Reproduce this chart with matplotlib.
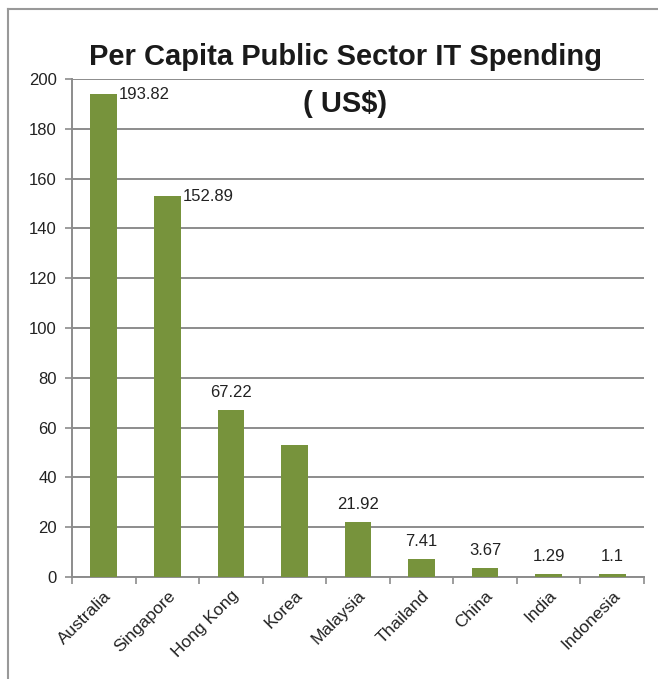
import matplotlib.pyplot as plt
from matplotlib import font_manager
from matplotlib.lines import Line2D

countries = ["Australia", "Singapore", "Hong Kong", "Korea", "Malaysia",
             "Thailand", "China", "India", "Indonesia"]
spending = [193.82, 152.89, 67.22, 53.0, 21.92, 7.41, 3.67, 1.29, 1.1]
labels = ["193.82", "152.89", "67.22", "", "21.92", "7.41", "3.67", "1.29", "1.1"]
yticks = [0, 20, 40, 60, 80, 100, 120, 140, 160, 180, 200]

names = {f.name for f in font_manager.fontManager.ttflist}
narrow = "Liberation Sans Narrow" if "Liberation Sans Narrow" in names else "Liberation Sans"
plt.rcParams["font.family"] = [narrow, "DejaVu Sans"]

BAR = "#77933C"
GRID = "#8c8c8c"

fig = plt.figure(figsize=(6.58, 6.79), dpi=100)
ax = fig.add_axes([72 / 658, 1 - 577 / 679, (644 - 72) / 658, (577 - 79) / 679])

x = range(len(countries))
ax.bar(x, spending, width=0.42, color=BAR, zorder=3)

for i, (v, lab) in enumerate(zip(spending, labels)):
    if not lab:
        continue
    if i < 2:
        ax.text(i + 0.24, v, lab, ha="left", va="center", fontsize=12, color="#222222")
    else:
        ax.text(i, v + 4, lab, ha="center", va="bottom", fontsize=12, color="#222222")

ax.set_xlim(-0.5, len(countries) - 0.5)
ax.set_ylim(0, 200)
ax.set_yticks(yticks)
ax.set_yticklabels([str(t) for t in yticks], fontsize=12, color="#222222")
ax.yaxis.grid(True, color=GRID, linewidth=1.4, zorder=0)
ax.set_axisbelow(True)

# category ticks sit between bars
ax.set_xticks([i - 0.5 for i in range(len(countries) + 1)], minor=False)
ax.set_xticklabels([""] * (len(countries) + 1))
ax.set_xticks(list(x), minor=True)
ax.set_xticklabels(countries, minor=True, rotation=45, ha="right",
                   rotation_mode="anchor", fontsize=12.5, color="#222222")
ax.tick_params(axis="x", which="minor", length=0, pad=8)
ax.tick_params(axis="x", which="major", length=5, color=GRID, width=1.2)
ax.tick_params(axis="y", length=5, color=GRID, width=1.2, pad=6)

for s in ["top", "right"]:
    ax.spines[s].set_visible(False)
for s in ["left", "bottom"]:
    ax.spines[s].set_color(GRID)
    ax.spines[s].set_linewidth(1.4)

fig.text(0.525, 1 - 57 / 679, "Per Capita Public Sector IT Spending",
         ha="center", va="center", fontsize=21, fontweight="bold", color="#1a1a1a")
fig.text(0.525, 1 - 104 / 679, "( US$)",
         ha="center", va="center", fontsize=21, fontweight="bold", color="#1a1a1a")

# outer frame (left and top edges)
fig.add_artist(Line2D([7.5 / 658, 7.5 / 658], [0, 1 - 9 / 679], transform=fig.transFigure,
                      color="#999999", linewidth=1.5))
fig.add_artist(Line2D([7.5 / 658, 1], [1 - 9 / 679, 1 - 9 / 679], transform=fig.transFigure,
                      color="#999999", linewidth=1.5))

fig.savefig("out.png", dpi=100)
